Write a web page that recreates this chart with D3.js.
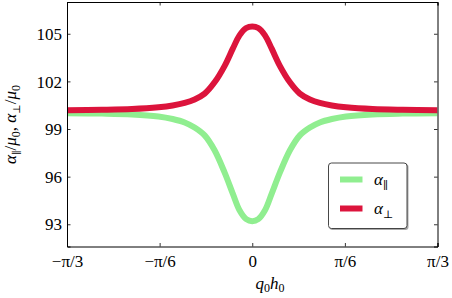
<!DOCTYPE html>
<html>
<head>
<meta charset="utf-8">
<script src="https://cdn.jsdelivr.net/npm/d3@7"></script>
<style>
html,body{margin:0;padding:0;background:#fff;}
svg{display:block;}
text{font-family:"Liberation Serif","DejaVu Serif",serif;fill:#000;}
.sym{font-family:"DejaVu Serif","DejaVu Sans",serif;}
</style>
</head>
<body>
<svg id="chart" width="452" height="298"></svg>
<script>
// Data
const xValues = [-1.047, -0.85, -0.68, -0.53, -0.45, -0.382, -0.326, -0.269, -0.213, -0.156, -0.11, -0.072, -0.034, 0,
                 0.034, 0.072, 0.11, 0.156, 0.213, 0.269, 0.326, 0.382, 0.45, 0.53, 0.68, 0.85, 1.047];
const alphaPar = [99.99, 99.97, 99.92, 99.79, 99.63, 99.41, 99.09, 98.6, 97.66, 96.25, 94.93, 93.88, 93.32, 93.19,
                  93.32, 93.88, 94.93, 96.25, 97.66, 98.6, 99.09, 99.41, 99.63, 99.79, 99.92, 99.97, 99.99];
const alphaPerp = [100.18, 100.21, 100.26, 100.37, 100.48, 100.64, 100.86, 101.23, 101.94, 102.98, 104.06, 104.9, 105.36, 105.46,
                   105.36, 104.9, 104.06, 102.98, 101.94, 101.23, 100.86, 100.64, 100.48, 100.37, 100.26, 100.21, 100.18];
const xTicks = [-Math.PI/3, -Math.PI/6, 0, Math.PI/6, Math.PI/3];
const xTickLabels = ["\u2212\u03C0/3", "\u2212\u03C0/6", "0", "\u03C0/6", "\u03C0/3"];
const yTicks = [93, 96, 99, 102, 105];
const seriesNames = ["par", "perp"];
const seriesColors = ["#90EE90", "#DC143C"];

const FONT = '"Liberation Serif", "DejaVu Serif", serif';
const svg = d3.select("#chart");
const W = 452, H = 298;
const m = {left: 67, right: 14.5, top: 2, bottom: 51.5};
const x = d3.scaleLinear().domain([-Math.PI/3, Math.PI/3]).range([m.left, W - m.right]);
const y = d3.scaleLinear().domain([91.6, 107]).range([H - m.bottom, m.top]);

svg.append("defs").append("clipPath").attr("id", "clip")
  .append("rect").attr("x", m.left).attr("y", m.top)
  .attr("width", W - m.left - m.right).attr("height", H - m.top - m.bottom);

const line = d3.line().x(d => x(d[0])).y(d => y(d[1])).curve(d3.curveCatmullRom.alpha(0.5));
const seriesData = [alphaPar, alphaPerp];
const g = svg.append("g").attr("clip-path", "url(#clip)");
seriesData.forEach((vals, i) => {
  g.append("path")
    .datum(xValues.map((xv, j) => [xv, vals[j]]))
    .attr("d", line)
    .attr("fill", "none")
    .attr("stroke", seriesColors[i])
    .attr("stroke-width", 6)
    .attr("stroke-linejoin", "round");
});

// axes with inward ticks
const tl = 3.5;
const axB = svg.append("g").attr("transform", `translate(0,${H - m.bottom})`)
  .call(d3.axisBottom(x).tickValues(xTicks).tickSize(-tl).tickFormat((d, i) => xTickLabels[i]));
const axT = svg.append("g").attr("transform", `translate(0,${m.top})`)
  .call(d3.axisTop(x).tickValues(xTicks).tickSize(-tl).tickFormat(""));
const axL = svg.append("g").attr("transform", `translate(${m.left},0)`)
  .call(d3.axisLeft(y).tickValues(yTicks).tickSize(-tl).tickFormat(d3.format("d")));
const axR = svg.append("g").attr("transform", `translate(${W - m.right},0)`)
  .call(d3.axisRight(y).tickValues(yTicks).tickSize(-tl).tickFormat(""));
[axB, axT, axL, axR].forEach(a => {
  a.attr("font-family", null).attr("font-size", null);
  a.select(".domain").attr("stroke", "#000").attr("stroke-width", 1);
  a.selectAll(".tick line").attr("stroke", "#000").attr("stroke-width", 0.8);
  a.selectAll("text").style("font-family", FONT).style("font-size", "17px").attr("fill", "#000");
});
axB.selectAll(".tick text").attr("y", 8).attr("dy", "0.71em");
axL.selectAll(".tick text").attr("x", -5).attr("dy", "0.33em");

// x label
const xl = svg.append("text").attr("x", 270).attr("y", 289).attr("text-anchor", "middle")
  .style("font-family", FONT).style("font-size", "17px").style("font-style", "italic");
xl.append("tspan").text("q");
xl.append("tspan").attr("dy", 3).style("font-size", "12px").style("font-style", "normal").text("0");
xl.append("tspan").attr("dy", -3).text("h");
xl.append("tspan").attr("dy", 3).style("font-size", "12px").style("font-style", "normal").text("0");

// y label
const yl = svg.append("text").attr("transform", `translate(16,124.5) rotate(-90)`)
  .attr("text-anchor", "middle").style("font-family", FONT).style("font-size", "17px");
function part(t, opts) {
  const s = yl.append("tspan").text(t);
  if (opts.italic) s.style("font-style", "italic");
  if (opts.sub) s.style("font-size", "12px");
  if (opts.sym) s.attr("class", "sym").style("font-size", "10px");
  if (opts.dy) s.attr("dy", opts.dy);
  return s;
}
part("\u03B1", {italic: true});
part("\u2225", {sub: true, sym: true, dy: 4});
part("/", {dy: -4});
part("\u03BC", {italic: true});
part("0", {sub: true, dy: 4});
part(", ", {dy: -4});
part("\u03B1", {italic: true});
part("\u22A5", {sub: true, sym: true, dy: 4});
part("/", {dy: -4});
part("\u03BC", {italic: true});
part("0", {sub: true, dy: 4});

// legend
const lg = svg.append("g");
lg.append("rect").attr("x", 329.5).attr("y", 164).attr("width", 79).attr("height", 66)
  .attr("rx", 3).attr("fill", "#555").attr("opacity", 0.5);
lg.append("rect").attr("x", 328.5).attr("y", 163).attr("width", 78.5).attr("height", 65.5)
  .attr("rx", 3).attr("fill", "#fff").attr("stroke", "#333").attr("stroke-width", 0.9);
const legendSub = ["\u2225", "\u22A5"];
const legendY = [179.5, 208.5];
seriesNames.forEach((n, i) => {
  lg.append("line").attr("x1", 340).attr("x2", 362.5).attr("y1", legendY[i]).attr("y2", legendY[i])
    .attr("stroke", seriesColors[i]).attr("stroke-width", 6);
  const t = lg.append("text").attr("x", 374).attr("y", legendY[i] + 5)
    .style("font-family", FONT).style("font-size", "17px");
  t.append("tspan").style("font-style", "italic").text("\u03B1");
  t.append("tspan").attr("dy", 4).attr("class", "sym").style("font-size", "11px").text(legendSub[i]);
});
</script>
</body>
</html>
